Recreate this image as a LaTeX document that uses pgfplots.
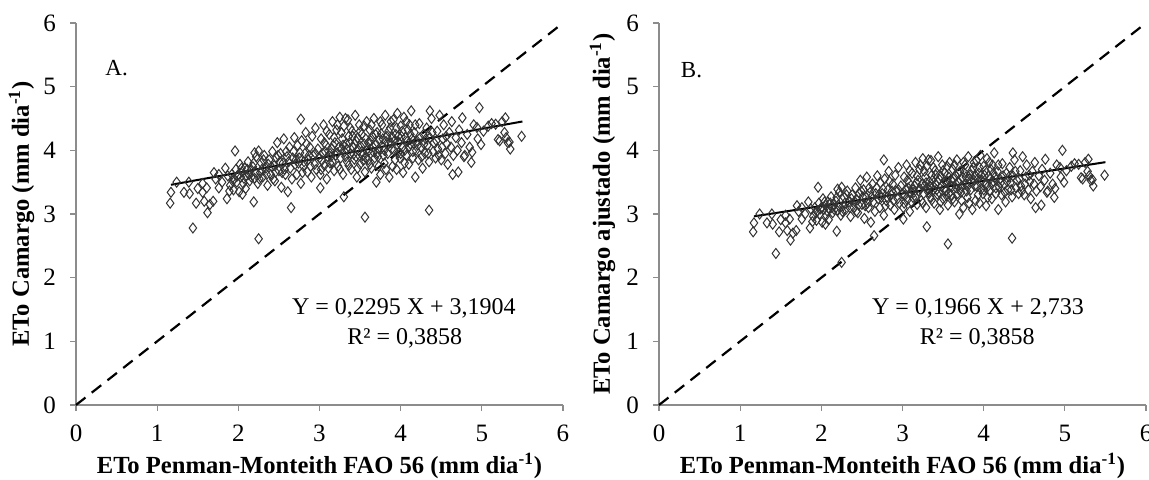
\documentclass[border=0pt]{standalone}
\usepackage{fontspec}
\setmainfont{Liberation Serif}
\usepackage{pgfplots}
\pgfplotsset{compat=1.18}
\usepackage{pgfplotstable}

% x = ETo Penman-Monteith, yA = ETo Camargo, yB = ETo Camargo ajustado
\pgfplotstableread{
x yA yB
1.16 3.17 2.72
1.17 3.34 2.86
1.24 3.50 3.00
1.33 3.34 2.86
1.39 3.50 3.00
1.40 3.32 2.84
1.44 2.78 2.38
1.48 3.17 2.72
1.56 3.48 2.98
1.56 3.34 2.86
1.61 3.41 2.92
1.58 3.20 2.74
1.62 3.02 2.59
1.65 3.15 2.70
1.69 3.20 2.74
1.70 3.65 3.13
1.76 3.62 3.10
1.76 3.41 2.92
1.86 3.24 2.78
1.89 3.36 2.88
1.96 3.99 3.42
2.05 3.31 2.84
2.19 3.19 2.73
2.25 2.61 2.24
2.20 3.96 3.39
2.65 3.10 2.66
2.77 4.49 3.85
3.01 3.41 2.92
3.30 3.27 2.80
3.56 2.95 2.53
4.35 3.06 2.62
4.64 3.62 3.10
4.71 3.66 3.14
4.87 3.81 3.26
4.88 3.97 3.40
4.97 4.67 4.00
4.99 4.09 3.50
5.29 4.51 3.86
5.28 4.28 3.67
5.34 4.13 3.54
5.35 4.02 3.44
5.49 4.22 3.61
5.17 4.41 3.78
5.20 4.17 3.57
4.36 4.62 3.96
4.76 4.51 3.86
4.79 3.92 3.36
4.94 4.36 3.73
1.50 3.40 2.91
1.72 3.55 3.04
1.80 3.50 3.00
1.84 3.72 3.19
1.87 3.60 3.08
1.90 3.45 2.96
1.92 3.62 3.10
1.94 3.38 2.90
1.95 3.55 3.04
1.97 3.70 3.17
1.98 3.50 3.00
2.00 3.62 3.10
2.01 3.35 2.87
2.02 3.78 3.24
2.03 3.58 3.07
2.05 3.66 3.14
2.06 3.48 2.98
2.08 3.72 3.19
2.09 3.40 2.91
2.10 3.60 3.08
2.12 3.82 3.27
2.14 3.52 3.02
2.15 3.68 3.15
2.18 3.74 3.20
2.20 3.56 3.05
2.22 3.90 3.34
2.24 3.48 2.98
2.25 3.99 3.42
2.27 3.65 3.13
2.28 3.80 3.26
2.30 3.58 3.07
2.32 3.92 3.36
2.34 3.72 3.19
2.36 3.45 2.96
2.38 3.85 3.30
2.40 3.62 3.10
2.42 3.98 3.41
2.44 3.76 3.22
2.45 3.52 3.02
2.47 3.88 3.32
2.48 4.12 3.53
2.50 3.68 3.15
2.52 3.95 3.38
2.53 3.42 2.93
2.55 3.80 3.26
2.56 4.18 3.58
2.58 3.62 3.10
2.60 3.90 3.34
2.61 3.35 2.87
2.63 4.05 3.47
2.64 3.72 3.19
2.66 3.55 3.04
2.68 3.98 3.41
2.69 4.20 3.60
2.70 3.78 3.24
2.72 3.62 3.10
2.73 4.08 3.49
2.75 3.88 3.32
2.77 3.48 2.98
2.78 4.15 3.55
2.80 3.75 3.21
2.82 3.95 3.38
2.83 4.28 3.67
2.85 3.66 3.14
2.86 3.85 3.30
2.88 4.05 3.47
2.90 3.58 3.07
2.91 4.22 3.61
2.92 3.92 3.36
2.94 3.78 3.24
2.95 4.35 3.73
2.96 3.70 3.17
2.98 4.02 3.44
3.00 3.88 3.32
3.01 3.62 3.10
3.02 4.18 3.58
3.04 3.95 3.38
3.05 4.40 3.77
3.06 3.76 3.22
3.08 4.08 3.49
3.09 3.55 3.04
3.10 3.90 3.34
3.12 4.25 3.64
3.13 3.80 3.26
3.15 4.02 3.44
3.16 4.45 3.81
3.18 3.68 3.15
3.19 4.12 3.53
3.20 3.92 3.36
3.21 4.32 3.70
3.23 3.75 3.21
3.24 4.05 3.47
3.25 4.52 3.87
3.26 3.88 3.32
3.28 4.18 3.58
3.29 3.62 3.10
3.30 4.38 3.75
3.31 3.98 3.41
3.33 4.10 3.51
3.34 3.82 3.27
3.35 4.48 3.84
3.36 4.22 3.61
3.38 3.95 3.38
3.39 3.70 3.17
3.40 4.30 3.68
3.41 4.05 3.47
3.43 3.86 3.31
3.44 4.55 3.90
3.45 4.15 3.55
3.46 3.58 3.07
3.48 4.00 3.43
3.49 4.40 3.77
3.50 3.78 3.24
3.52 4.25 3.64
3.53 3.92 3.36
3.55 4.10 3.51
3.56 3.66 3.14
3.58 4.45 3.81
3.59 4.02 3.44
3.60 3.85 3.30
3.62 4.32 3.70
3.63 4.15 3.55
3.64 3.72 3.19
3.66 3.98 3.41
3.67 4.50 3.85
3.69 4.08 3.49
3.70 3.50 3.00
3.71 4.28 3.67
3.72 3.90 3.34
3.74 4.18 3.58
3.75 3.62 3.10
3.77 4.40 3.77
3.78 4.05 3.47
3.80 3.80 3.26
3.81 4.55 3.90
3.83 4.22 3.61
3.84 3.95 3.38
3.86 3.58 3.07
3.87 4.35 3.73
3.88 4.12 3.53
3.90 3.75 3.21
3.91 4.48 3.84
3.92 4.00 3.43
3.94 4.25 3.64
3.95 3.70 3.17
3.96 4.58 3.92
3.98 4.12 3.53
3.99 3.88 3.32
4.00 4.38 3.75
4.02 4.05 3.47
4.03 3.65 3.13
4.04 4.52 3.87
4.06 4.20 3.60
4.07 3.92 3.36
4.09 4.32 3.70
4.10 3.78 3.24
4.12 4.10 3.51
4.13 4.62 3.96
4.15 3.98 3.41
4.17 4.28 3.67
4.18 3.58 3.07
4.20 4.15 3.55
4.22 3.85 3.30
4.23 4.42 3.79
4.25 4.05 3.47
4.27 3.72 3.19
4.28 4.25 3.64
4.30 3.95 3.38
4.32 4.35 3.73
4.33 4.08 3.49
4.35 3.82 3.27
4.36 4.20 3.60
4.38 4.50 3.85
4.40 3.98 3.41
4.41 4.12 3.53
4.43 3.88 3.32
4.45 4.30 3.68
4.46 4.02 3.44
4.48 4.55 3.90
4.50 3.85 3.30
4.52 4.18 3.58
4.53 4.40 3.77
4.55 3.95 3.38
4.57 4.10 3.51
4.58 3.78 3.24
4.60 4.28 3.67
4.62 4.05 3.47
4.63 4.45 3.81
4.65 3.92 3.36
4.68 4.20 3.60
4.70 4.00 3.43
4.72 4.32 3.70
4.75 4.12 3.53
4.78 3.90 3.34
4.82 4.25 3.64
4.85 4.05 3.47
4.90 4.40 3.77
4.95 4.18 3.58
5.02 4.30 3.68
5.08 4.38 3.75
5.12 4.42 3.79
5.22 4.15 3.55
5.25 4.45 3.81
5.30 4.20 3.60
5.32 4.12 3.53
3.03 3.84 3.29
3.07 3.98 3.41
3.11 3.72 3.19
3.14 3.90 3.34
3.17 4.08 3.49
3.22 3.96 3.39
3.27 4.02 3.44
3.32 3.90 3.34
3.37 4.12 3.53
3.42 3.94 3.38
3.47 4.20 3.60
3.51 4.06 3.48
3.54 3.84 3.29
3.57 4.18 3.58
3.61 4.00 3.43
3.65 4.22 3.61
3.68 3.88 3.32
3.73 4.02 3.44
3.76 4.26 3.65
3.79 3.92 3.36
3.82 4.14 3.55
3.85 4.30 3.68
3.89 4.02 3.44
3.93 4.16 3.56
3.97 3.96 3.39
4.01 4.22 3.61
4.05 4.00 3.43
4.08 4.14 3.55
4.11 4.40 3.77
4.14 4.18 3.58
4.19 4.00 3.43
4.24 4.20 3.60
4.29 4.10 3.51
2.87 3.92 3.36
2.81 3.82 3.27
2.76 3.96 3.39
2.71 3.85 3.30
2.62 3.82 3.27
2.57 3.70 3.17
2.51 3.82 3.27
2.46 3.66 3.14
2.41 3.74 3.20
2.35 3.62 3.10
2.29 3.70 3.17
2.21 3.66 3.14
2.16 3.58 3.07
2.11 3.70 3.17
2.07 3.56 3.05
3.02 3.70 3.17
3.06 4.12 3.53
3.09 4.30 3.68
3.13 3.95 3.38
3.16 3.82 3.27
3.18 4.20 3.60
3.22 4.40 3.77
3.25 3.70 3.17
3.27 4.28 3.67
3.29 4.08 3.49
3.32 4.50 3.85
3.34 4.02 3.44
3.36 3.76 3.22
3.38 4.35 3.73
3.41 4.22 3.61
3.43 4.10 3.51
3.45 3.90 3.34
3.47 3.72 3.19
3.50 4.30 3.68
3.52 3.98 3.41
3.55 4.38 3.75
3.57 3.88 3.32
3.60 4.12 3.53
3.62 3.78 3.24
3.64 4.40 3.77
3.66 4.05 3.47
3.69 4.25 3.64
3.71 3.95 3.38
3.73 3.75 3.21
3.75 4.45 3.81
3.78 4.18 3.58
3.80 4.00 3.43
3.82 3.70 3.17
3.85 4.10 3.51
3.88 4.45 3.81
3.90 4.20 3.60
3.93 3.85 3.30
3.95 4.35 3.73
3.97 4.22 3.61
4.00 3.95 3.38
4.02 4.30 3.68
4.05 3.80 3.26
4.07 4.45 3.81
4.10 4.05 3.47
4.12 4.25 3.64
4.15 3.88 3.32
4.18 4.40 3.77
4.21 4.08 3.49
4.26 3.90 3.34
4.31 4.18 3.58
4.34 3.95 3.38
4.39 4.28 3.67
4.44 4.15 3.55
4.47 3.92 3.36
4.51 4.05 3.47
4.56 4.22 3.61
2.95 3.95 3.38
2.89 3.75 3.21
2.84 4.10 3.51
2.79 3.65 3.13
2.74 3.80 3.26
2.67 3.88 3.32
2.59 3.98 3.41
2.54 3.65 3.13
2.49 3.92 3.36
2.43 3.55 3.04
2.37 3.78 3.24
2.31 3.85 3.30
2.26 3.55 3.04
2.19 3.80 3.26
2.13 3.62 3.10
2.04 3.72 3.19
1.99 3.60 3.08
1.93 3.52 3.02
}\etodata

\pgfplotsset{
  etoaxis/.style={
    width=243.5pt, height=191pt, scale only axis,
    xmin=0, xmax=6, ymin=0, ymax=6,
    xtick={0,1,...,6}, ytick={0,1,...,6},
    axis x line*=bottom, axis y line*=left,
    axis line style={black!45, line width=0.6pt},
    tick style={black!45, line width=0.6pt},
    tick align=outside, major tick length=3pt,
    xticklabel shift=3.5pt, yticklabel shift=3.5pt,
    ticklabel style={font=\fontsize{12.5}{14}\selectfont},
    /pgf/number format/assume math mode=true,
    every axis x label/.style={at={(axis description cs:0.5,-0.16)}, anchor=center},
    every axis y label/.style={at={(axis description cs:-0.112,0.5)}, rotate=90, anchor=center},
    label style={font=\fontsize{12.3}{14}\selectfont\bfseries},
    clip=false,
  },
  pts/.style={only marks, mark=diamond, mark size=2.5pt,
    mark options={draw=black!80, line width=0.5pt, fill=none}},
  oneone/.style={black, line width=1.1pt, dash pattern=on 6pt off 4pt},
  fitline/.style={black, line width=1pt},
}
\tikzset{txt/.style={font=\fontsize{12}{14}\selectfont}}

\begin{document}
\begin{tikzpicture}
\useasboundingbox (-38pt,-37.5pt) rectangle (536.5pt,202.5pt);

% A. ETo Camargo
\begin{axis}[etoaxis, at={(0pt,0pt)}, anchor=south west,
  xlabel={ETo Penman-Monteith FAO 56 (mm dia\textsuperscript{-1})},
  ylabel={ETo Camargo (mm dia\textsuperscript{-1})}]
  \addplot[pts] table[x=x, y=yA] {\etodata};
  \addplot[fitline] coordinates {(1.17,3.459) (5.50,4.453)};
  \addplot[oneone] coordinates {(0,0) (6,6)};
  \node[font=\fontsize{11.5}{13}\selectfont] at (axis cs:0.50,5.29) {A.};
  \node[txt] at (axis cs:4.04,1.52) {Y = 0,2295 X + 3,1904};
  \node[txt] at (axis cs:4.05,1.04) {R² = 0,3858};
\end{axis}

% B. ETo Camargo ajustado
\begin{axis}[etoaxis, at={(291.5pt,0pt)}, anchor=south west,
  xlabel={ETo Penman-Monteith FAO 56 (mm dia\textsuperscript{-1})},
  ylabel={ETo Camargo ajustado (mm dia\textsuperscript{-1})},
  ylabel style={at={(axis description cs:-0.116,0.5)}}]
  \addplot[pts] table[x=x, y=yB] {\etodata};
  \addplot[fitline] coordinates {(1.17,2.963) (5.50,3.814)};
  \addplot[oneone] coordinates {(0,0) (6,6)};
  \node[font=\fontsize{11.5}{13}\selectfont] at (axis cs:0.40,5.26) {B.};
  \node[txt] at (axis cs:3.93,1.52) {Y = 0,1966 X + 2,733};
  \node[txt] at (axis cs:3.92,1.04) {R² = 0,3858};
\end{axis}
\end{tikzpicture}
\end{document}
